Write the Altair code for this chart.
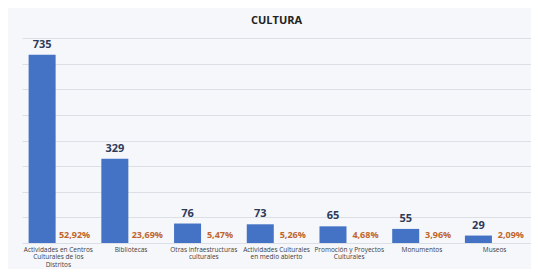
import altair as alt
import pandas as pd

categories = [
    "Actividades en Centros\nCulturales de los\nDistritos",
    "Bibliotecas",
    "Otras infraestructuras\nculturales",
    "Actividades Culturales\nen medio abierto",
    "Promoción y Proyectos\nCulturales",
    "Monumentos",
    "Museos",
]
values = [735, 329, 76, 73, 65, 55, 29]
percents = ["52,92%", "23,69%", "5,47%", "5,26%", "4,68%", "3,96%", "2,09%"]

rows = []
for c, v, p in zip(categories, values, percents):
    rows.append({"cat": c, "series": "a", "value": v, "label": str(v)})
    rows.append({"cat": c, "series": "b", "value": 0, "label": p})
df = pd.DataFrame(rows)

x = alt.X("cat:N", sort=categories, title=None,
          scale=alt.Scale(paddingInner=0, paddingOuter=0),
          axis=alt.Axis(labelExpr="split(datum.label, '\\n')", labelAngle=0,
                        labelFontSize=6.5, labelColor="#404040", labelFont="Open Sans",
                        domain=False, ticks=False, labelPadding=3, labelLineHeight=7.8,
                        grid=False))
y = alt.Y("value:Q", title=None,
          scale=alt.Scale(domain=[0, 800], nice=False),
          axis=alt.Axis(values=list(range(0, 801, 100)), labels=False, ticks=False,
                        domain=False, gridColor="#dcdfe6", gridWidth=1))
xo = alt.XOffset("series:N", scale=alt.Scale(domain=["a", "b"], paddingInner=0,
                                             paddingOuter=0.12))

base = alt.Chart(df)
bars = base.transform_filter("datum.series == 'a'").mark_bar(
    size=27, color="#4472c4").encode(x=x, xOffset=xo, y=y)
val_text = base.transform_filter("datum.series == 'a'").mark_text(
    dy=-5, baseline="bottom", fontSize=11, fontWeight="bold",
    color="#2e3a59", font="Open Sans"
).encode(x=x, xOffset=xo, y=y, text="label:N")
pct_text = base.transform_filter("datum.series == 'b'").mark_text(
    dy=-3, baseline="bottom", fontSize=9, fontWeight="bold",
    color="#c0652a", font="Open Sans"
).encode(x=x, xOffset=xo, y=y, text="label:N")

chart = (bars + val_text + pct_text).properties(
    width=509, height=205,
    title=alt.Title("CULTURA", fontSize=11, fontWeight="bold", color="#222222",
                    font="Open Sans", offset=12),
    background="#f5f7fb",
    padding={"left": 14, "right": 0, "top": 7, "bottom": 0},
).configure_view(stroke=None)

chart.save("out.html", embed_options={"renderer": "svg", "actions": False})
